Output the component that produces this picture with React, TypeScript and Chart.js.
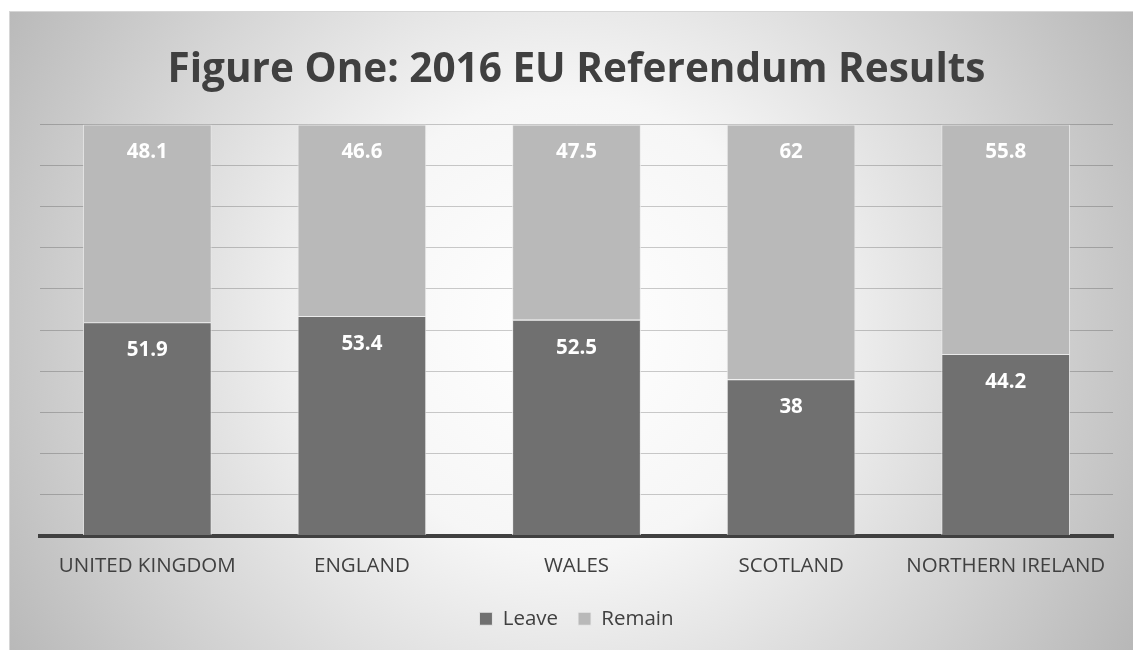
import React, { useEffect, useRef } from "react";
import { Chart, registerables } from "chart.js";

Chart.register(...registerables);

const categories = ["UNITED KINGDOM", "ENGLAND", "WALES", "SCOTLAND", "NORTHERN IRELAND"];
const leaveValues = [51.9, 53.4, 52.5, 38, 44.2];
const remainValues = [48.1, 46.6, 47.5, 62, 55.8];
const chartTitle = "Figure One: 2016 EU Referendum Results";
const FONT = "'Open Sans', 'Noto Sans', sans-serif";

const bgPlugin = {
  id: "bgPlugin",
  beforeDraw(chart: any) {
    const { ctx, width, height } = chart;
    ctx.save();
    const cx = 557, cy = 314;
    const g = ctx.createRadialGradient(cx, cy, 0, cx, cy, 650);
    g.addColorStop(0, "#ffffff");
    g.addColorStop(0.35, "#f6f6f6");
    g.addColorStop(1, "#b8b8b8");
    ctx.fillStyle = g;
    ctx.fillRect(0, 0, width, height);
    ctx.strokeStyle = "#d6d6d6";
    ctx.lineWidth = 1;
    ctx.strokeRect(0.5, 0.5, width + 5, height + 5);
    ctx.restore();
  },
};

const labelPlugin = {
  id: "labelPlugin",
  afterDatasetsDraw(chart: any) {
    const { ctx } = chart;
    ctx.save();
    ctx.fillStyle = "#ffffff";
    ctx.font = `bold 20.5px ${FONT}`;
    ctx.textAlign = "center";
    ctx.textBaseline = "middle";
    chart.data.datasets.forEach((ds: any, di: number) => {
      const meta = chart.getDatasetMeta(di);
      meta.data.forEach((el: any, i: number) => {
        ctx.fillText(String(ds.data[i]), el.x, el.y + 28);
      });
    });
    ctx.restore();
  },
};

export default function App() {
  const ref = useRef<HTMLCanvasElement>(null);
  useEffect(() => {
    if (!ref.current) return;
    const chart = new Chart(ref.current, {
      type: "bar",
      data: {
        labels: categories,
        datasets: [
          {
            label: "Leave",
            data: leaveValues,
            backgroundColor: "#707070",
            borderColor: "rgba(235,235,235,0.9)",
            borderWidth: 1,
            categoryPercentage: 0.6,
            barPercentage: 1,
          },
          {
            label: "Remain",
            data: remainValues,
            backgroundColor: "#b9b9b9",
            borderColor: "rgba(235,235,235,0.9)",
            borderWidth: 1,
            categoryPercentage: 0.6,
            barPercentage: 1,
          },
        ],
      },
      options: {
        animation: false,
        responsive: true,
        maintainAspectRatio: false,
        layout: { padding: { left: 31, right: 20, top: 0, bottom: 11 } },
        plugins: {
          title: {
            display: true,
            text: chartTitle,
            color: "#404040",
            font: { family: FONT, size: 40.5, weight: "bold" },
            padding: { top: 35, bottom: 30 },
          },
          legend: {
            position: "bottom",
            labels: {
              color: "#404040",
              font: { family: FONT, size: 20.5 },
              boxWidth: 13,
              boxHeight: 13,
              padding: 20,
            },
          },
          tooltip: { enabled: false },
        },
        scales: {
          x: {
            stacked: true,
            grid: { display: false },
            border: { display: true, color: "#404040", width: 4 },
            ticks: { color: "#404040", font: { family: FONT, size: 20.5 }, padding: 10, maxRotation: 0 },
            afterFit: (s: any) => { s.height = 53; },
          },
          y: {
            stacked: true,
            min: 0,
            max: 100,
            ticks: { display: false, stepSize: 10 },
            border: { display: false },
            grid: { color: "rgba(0,0,0,0.2)", lineWidth: 1, drawTicks: false },
            afterFit: (s: any) => { s.width = 0; },
          },
        },
      },
      plugins: [bgPlugin, labelPlugin],
    });
    return () => chart.destroy();
  }, []);
  return (
    <div style={{ position: "fixed", left: 9, top: 11, width: 1124, height: 639 }}>
      <canvas ref={ref} />
    </div>
  );
}
